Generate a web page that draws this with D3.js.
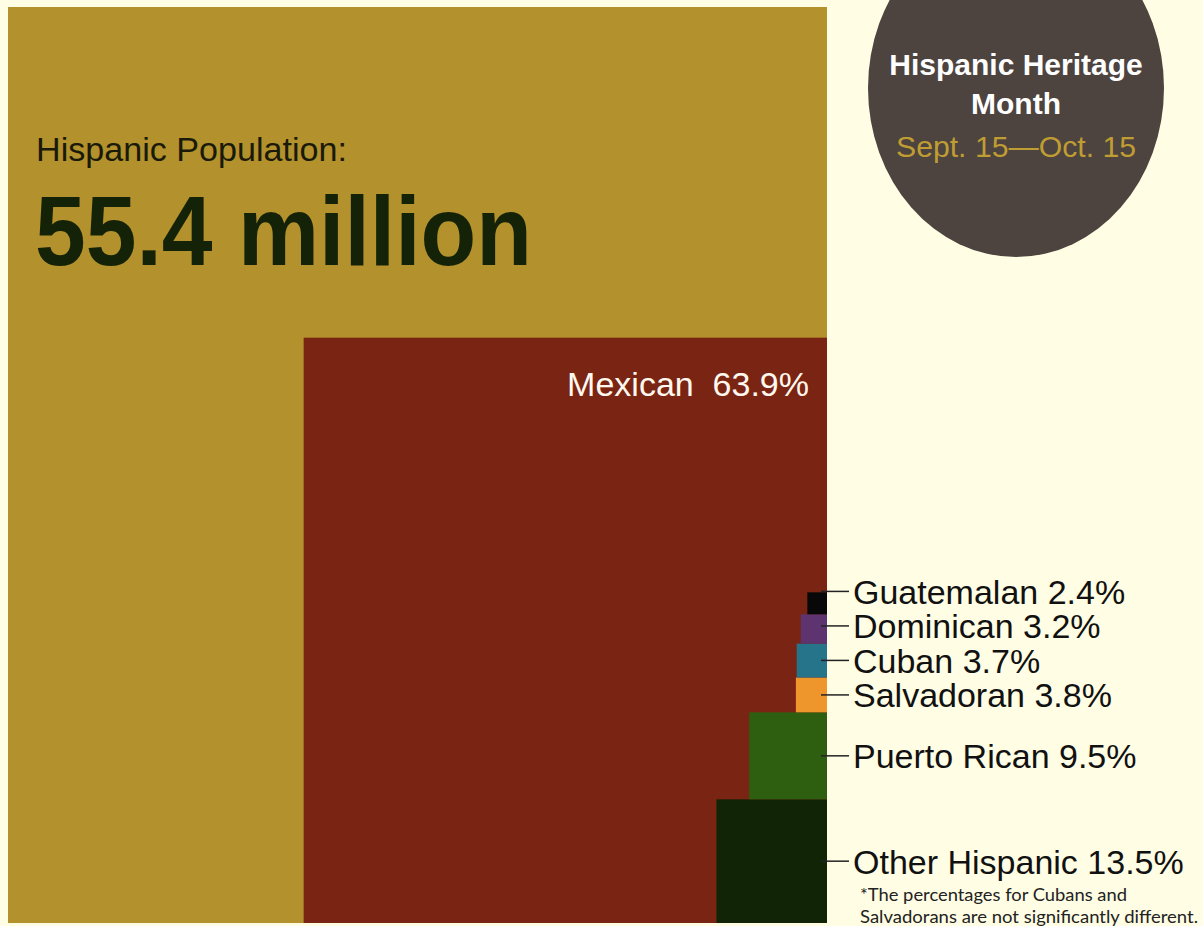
<!DOCTYPE html>
<html>
<head>
<meta charset="utf-8">
<script src="https://cdn.jsdelivr.net/npm/d3@7"></script>
<style>
  html, body { margin: 0; padding: 0; background: #FFFDE4; }
  svg { display: block; }
  svg text { font-family: "Liberation Sans", Arimo, Arial, Helvetica, sans-serif; white-space: pre; }
  svg text.note { font-family: "Liberation Sans Narrow", Lato, "Noto Sans", sans-serif; }
</style>
</head>
<body>
<svg id="chart" width="1203" height="926"></svg>
<script>
// Hispanic origin groups, share of the total Hispanic population (%)
const groups = ["Mexican", "Other Hispanic", "Puerto Rican", "Salvadoran", "Cuban", "Dominican", "Guatemalan"];
const shares = [63.9, 13.5, 9.5, 3.8, 3.7, 3.2, 2.4];
const colors = ["#7A2513", "#122406", "#2E5E0F", "#EE952B", "#26748A", "#5D3470", "#080808"];
const totalPopulation = "55.4 million";
const footnote = ["*The percentages for Cubans and", "Salvadorans are not significantly different."];

const svg = d3.select("#chart");

// Whole population is the 100% box; sides scale with each group's share
const boxLeft = 8, boxTop = 7, boxRight = 827, boxBottom = 923;
const w = d3.scaleLinear().domain([0, 100]).range([0, boxRight - boxLeft]);
const h = d3.scaleLinear().domain([0, 100]).range([0, boxBottom - boxTop]);

// Total box
svg.append("rect")
  .attr("x", boxRight - w(100)).attr("y", boxBottom - h(100))
  .attr("width", w(100)).attr("height", h(100))
  .attr("fill", "#B3912C");

svg.append("text")
  .attr("x", 36).attr("y", 161)
  .attr("font-size", 34)
  .attr("textLength", 311).attr("lengthAdjust", "spacingAndGlyphs")
  .attr("fill", "#1a1a0a")
  .text("Hispanic Population:");

svg.append("text")
  .attr("x", 35).attr("y", 265)
  .attr("font-size", 98).attr("font-weight", "bold")
  .attr("textLength", 497).attr("lengthAdjust", "spacingAndGlyphs")
  .attr("fill", "#142208")
  .text(totalPopulation);

// Mexican box anchored at the bottom-right corner
const mex = { name: groups[0], value: shares[0], color: colors[0] };
svg.append("rect")
  .attr("x", boxRight - w(mex.value)).attr("y", boxBottom - h(mex.value))
  .attr("width", w(mex.value)).attr("height", h(mex.value))
  .attr("fill", mex.color);

svg.append("text")
  .attr("x", boxRight - 18).attr("y", boxBottom - h(mex.value) + 58)
  .attr("text-anchor", "end")
  .attr("font-size", 34)
  .attr("fill", "#FFF8EE")
  .text(`${mex.name}  ${mex.value}%`);

// Smaller groups stacked upward along the right edge
let acc = 0;
const stacked = groups.slice(1).map((g, i) => {
  const v = shares[i + 1];
  const y0 = boxBottom - h(acc) - h(v);
  acc += v;
  return { name: g, value: v, color: colors[i + 1], x: boxRight - w(v), y: y0, bw: w(v), bh: h(v), cy: y0 + h(v) / 2 };
});

svg.selectAll("rect.group")
  .data(stacked)
  .join("rect")
  .attr("class", "group")
  .attr("x", d => d.x).attr("y", d => d.y)
  .attr("width", d => d.bw).attr("height", d => d.bh)
  .attr("fill", d => d.color);

// Label positions: start at box centre, push upward so lines don't collide
const gap = 34.5;
let prev = Infinity;
stacked.forEach(d => {
  d.ly = Math.min(d.cy, prev - gap);
  prev = d.ly;
});

svg.selectAll("line.leader")
  .data(stacked)
  .join("line")
  .attr("class", "leader")
  .attr("x1", boxRight - 6).attr("x2", 849)
  .attr("y1", d => d.ly).attr("y2", d => d.ly)
  .attr("stroke", "#222").attr("stroke-width", 1.5);

svg.selectAll("text.label")
  .data(stacked)
  .join("text")
  .attr("class", "label")
  .attr("x", 853).attr("y", d => d.ly + 12.5)
  .attr("font-size", 34)
  .attr("fill", "#111")
  .text(d => `${d.name} ${d.value}%`);

svg.selectAll("text.note")
  .data(footnote)
  .join("text")
  .attr("class", "note")
  .attr("x", 860).attr("y", (d, i) => 901 + i * 22)
  .attr("font-size", 17)
  .attr("textLength", (d, i) => i === 0 ? 267 : 338)
  .attr("lengthAdjust", "spacingAndGlyphs")
  .attr("fill", "#222")
  .text(d => d);

// Heritage month badge
svg.append("ellipse")
  .attr("cx", 1016).attr("cy", 88).attr("rx", 148).attr("ry", 169)
  .attr("fill", "#4D433F");

const badge = svg.append("g").attr("text-anchor", "middle");
badge.append("text").attr("x", 1016).attr("y", 75)
  .attr("font-size", 30).attr("font-weight", "bold").attr("fill", "#FFFFFF")
  .text("Hispanic Heritage");
badge.append("text").attr("x", 1016).attr("y", 114)
  .attr("font-size", 30).attr("font-weight", "bold").attr("fill", "#FFFFFF")
  .text("Month");
badge.append("text").attr("x", 1016).attr("y", 157)
  .attr("font-size", 29).attr("fill", "#BF9D33")
  .attr("textLength", 240).attr("lengthAdjust", "spacingAndGlyphs")
  .text("Sept. 15\u2014Oct. 15");
</script>
</body>
</html>
